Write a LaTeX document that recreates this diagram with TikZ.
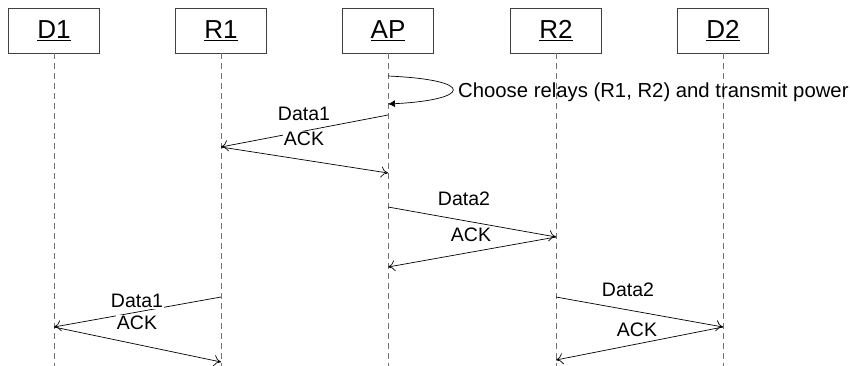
\documentclass[tikz,border=0pt]{standalone}
\usepackage{fontspec}
\setmainfont{Liberation Sans}
\usetikzlibrary{arrows.meta}
\begin{document}
\begin{tikzpicture}[x=1pt,y=-1pt,
  actor/.style={draw=black!75,line width=0.7pt,minimum width=91pt,minimum height=45pt,inner sep=0pt,font=\fontsize{26}{30}\selectfont},
  life/.style={draw=black!55,dashed,dash pattern=on 6pt off 4pt,line width=0.6pt},
  msg/.style={draw=black,line width=0.7pt,-{To[length=7pt,width=11pt]}},
  lbl/.style={fill=white,inner sep=1pt,font=\fontsize{19.5}{22}\selectfont}]
\useasboundingbox (0,0) rectangle (850,365);
\node[actor] (D1) at (54,30.5) {\underline{D1}};
\node[actor] (R1) at (221,30.5) {\underline{R1}};
\node[actor] (AP) at (388,30.5) {\underline{AP}};
\node[actor] (R2) at (556,30.5) {\underline{R2}};
\node[actor] (D2) at (723,30.5) {\underline{D2}};
\foreach \n in {D1,R1,AP,R2,D2} {
  \coordinate (\n end) at (\n.south |- 0,366);
  \draw[life] (\n.south) -- (\n end);
}
% self loop
\coordinate (s1) at (AP.south |- 0,76);
\coordinate (s2) at (AP.south |- 0,104);
\draw[line width=0.7pt,-{Latex[length=7pt,width=7pt]}] (s1) .. controls (478,80) and (470,100) .. (s2);
\node[anchor=west,inner sep=0pt,font=\fontsize{20.3}{23}\selectfont] (choose) at (458,92) {Choose relays (R1, R2) and transmit power};
% message coordinates
\coordinate (a1) at (AP.south |- 0,115);
\coordinate (b1) at (R1.south |- 0,147);
\coordinate (c1) at (AP.south |- 0,173);
\coordinate (a2) at (AP.south |- 0,207);
\coordinate (b2) at (R2.south |- 0,237);
\coordinate (c2) at (AP.south |- 0,267);
\coordinate (a3) at (R1.south |- 0,297);
\coordinate (b3) at (D1.south |- 0,327);
\coordinate (c3) at (R1.south |- 0,362);
\coordinate (a4) at (R2.south |- 0,297);
\coordinate (b4) at (D2.south |- 0,327);
\coordinate (c4) at (R2.south |- 0,360);
\draw[msg] (a1) -- (b1);
\draw[msg] (b1) -- (c1);
\draw[msg] (a2) -- (b2);
\draw[msg] (b2) -- (c2);
\draw[msg] (a3) -- (b3);
\draw[msg] (b3) -- (c3);
\draw[msg] (a4) -- (b4);
\draw[msg] (b4) -- (c4);
\node[lbl] (l1) at (304,114) {Data1};
\node[lbl] (k1) at (304,139) {ACK};
\node[lbl] (l2) at (464,199) {Data2};
\node[lbl] (k2) at (471,235) {ACK};
\node[lbl] (l3) at (137,301) {Data1};
\node[lbl] (k3) at (137,323) {ACK};
\node[lbl] (l4) at (628,290) {Data2};
\node[lbl] (k4) at (637,330) {ACK};
\end{tikzpicture}
\end{document}
